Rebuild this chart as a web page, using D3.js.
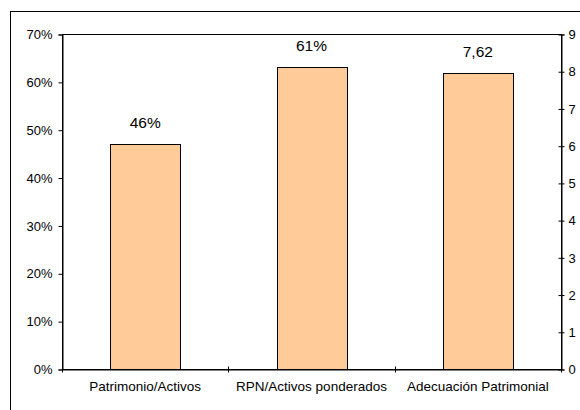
<!DOCTYPE html>
<html>
<head>
<meta charset="utf-8">
<script src="https://cdn.jsdelivr.net/npm/d3@7"></script>
<style>
  body { margin: 0; background: #fff; }
  text { font-family: "Liberation Sans", Arial, sans-serif; fill: #000; }
</style>
</head>
<body>
<div class="chart"></div>
<script>
// Data
var categories = ["Patrimonio/Activos", "RPN/Activos ponderados", "Adecuación Patrimonial"];
var barValues = [0.47, 0.631, 7.95];        // bar heights as drawn
var barAxis = ["left", "left", "right"];     // which axis each bar uses
var barLabels = ["46%", "61%", "7,62"];      // labels printed above the bars
var leftTicks = [0, 0.1, 0.2, 0.3, 0.4, 0.5, 0.6, 0.7];
var rightTicks = [0, 1, 2, 3, 4, 5, 6, 7, 8, 9];

var svgWidth = 580;
var svgHeight = 410;

var margin = { top: 34, right: 19, bottom: 41, left: 62 };
var chartWidth = svgWidth - margin.left - margin.right;
var chartHeight = svgHeight - margin.top - margin.bottom;

var svg = d3.select(".chart")
  .append("svg")
  .attr("width", svgWidth)
  .attr("height", svgHeight);

// outer frame (runs off the right and bottom of the picture)
svg.append("rect")
  .attr("x", 10.5).attr("y", 11.5)
  .attr("width", 600).attr("height", 430)
  .attr("fill", "none").attr("stroke", "#000");

var chart = svg.append("g")
  .attr("transform", "translate(" + margin.left + "," + margin.top + ")");

var xBandScale = d3.scaleBand()
  .domain(categories)
  .range([0, chartWidth])
  .paddingInner(0.58)
  .paddingOuter(0.29);

var yLeft = d3.scaleLinear().domain([0, 0.7]).range([chartHeight, 0]);
var yRight = d3.scaleLinear().domain([0, 9]).range([chartHeight, 0]);

function yFor(i) { return barAxis[i] === "left" ? yLeft : yRight; }

// plot area box
chart.append("rect")
  .attr("x", 0.5).attr("y", 0.5)
  .attr("width", chartWidth).attr("height", chartHeight)
  .attr("fill", "none").attr("stroke", "#000");

// bars
chart.selectAll("rect.bar")
  .data(barValues)
  .enter().append("rect")
  .attr("class", "bar")
  .attr("x", function(d, i) { return Math.round(xBandScale(categories[i])) + 0.5; })
  .attr("y", function(d, i) { return Math.round(yFor(i)(d)) + 0.5; })
  .attr("width", Math.round(xBandScale.bandwidth()))
  .attr("height", function(d, i) { return Math.round(chartHeight - yFor(i)(d)); })
  .attr("fill", "#FFCC99")
  .attr("stroke", "#000");

// value labels
chart.selectAll("text.val")
  .data(barValues)
  .enter().append("text")
  .attr("class", "val")
  .attr("x", function(d, i) { return xBandScale(categories[i]) + xBandScale.bandwidth() / 2; })
  .attr("y", function(d, i) { return yFor(i)(d) - 16; })
  .attr("text-anchor", "middle")
  .style("font-size", "15.5px")
  .text(function(d, i) { return barLabels[i]; });

// left axis
var leftAxis = d3.axisLeft(yLeft)
  .tickValues(leftTicks)
  .tickFormat(d3.format(".0%"))
  .tickSize(4)
  .tickPadding(6);
var gl = chart.append("g").attr("transform", "translate(0.5,0.5)").call(leftAxis);

// right axis
var rightAxis = d3.axisRight(yRight)
  .tickValues(rightTicks)
  .tickFormat(d3.format("d"))
  .tickSize(3)
  .tickPadding(4);
var gr = chart.append("g").attr("transform", "translate(" + (chartWidth + 0.5) + ",0.5)").call(rightAxis);
gr.selectAll(".tick line").attr("x1", -3);

// bottom axis: ticks at category boundaries
var bottomAxis = d3.axisBottom(xBandScale).tickSize(0).tickPadding(12);
var gb = chart.append("g").attr("transform", "translate(0," + (chartHeight + 0.5) + ")").call(bottomAxis);
gb.selectAll(".tick line").remove();
var step = xBandScale.step();
gb.selectAll("line.sep")
  .data(d3.range(categories.length + 1))
  .enter().append("line")
  .attr("class", "sep")
  .attr("x1", function(d) { return Math.round(d * step) + 0.5; })
  .attr("x2", function(d) { return Math.round(d * step) + 0.5; })
  .attr("y1", -3).attr("y2", 3)
  .attr("stroke", "#000");

[gl, gr, gb].forEach(function(g) {
  g.select(".domain").attr("stroke", "#000");
  g.selectAll(".tick line").attr("stroke", "#000");
  g.selectAll("text").style("font-size", "13px").attr("font-family", null);
});
gb.selectAll("text").style("font-size", "13.5px");
</script>
</body>
</html>
